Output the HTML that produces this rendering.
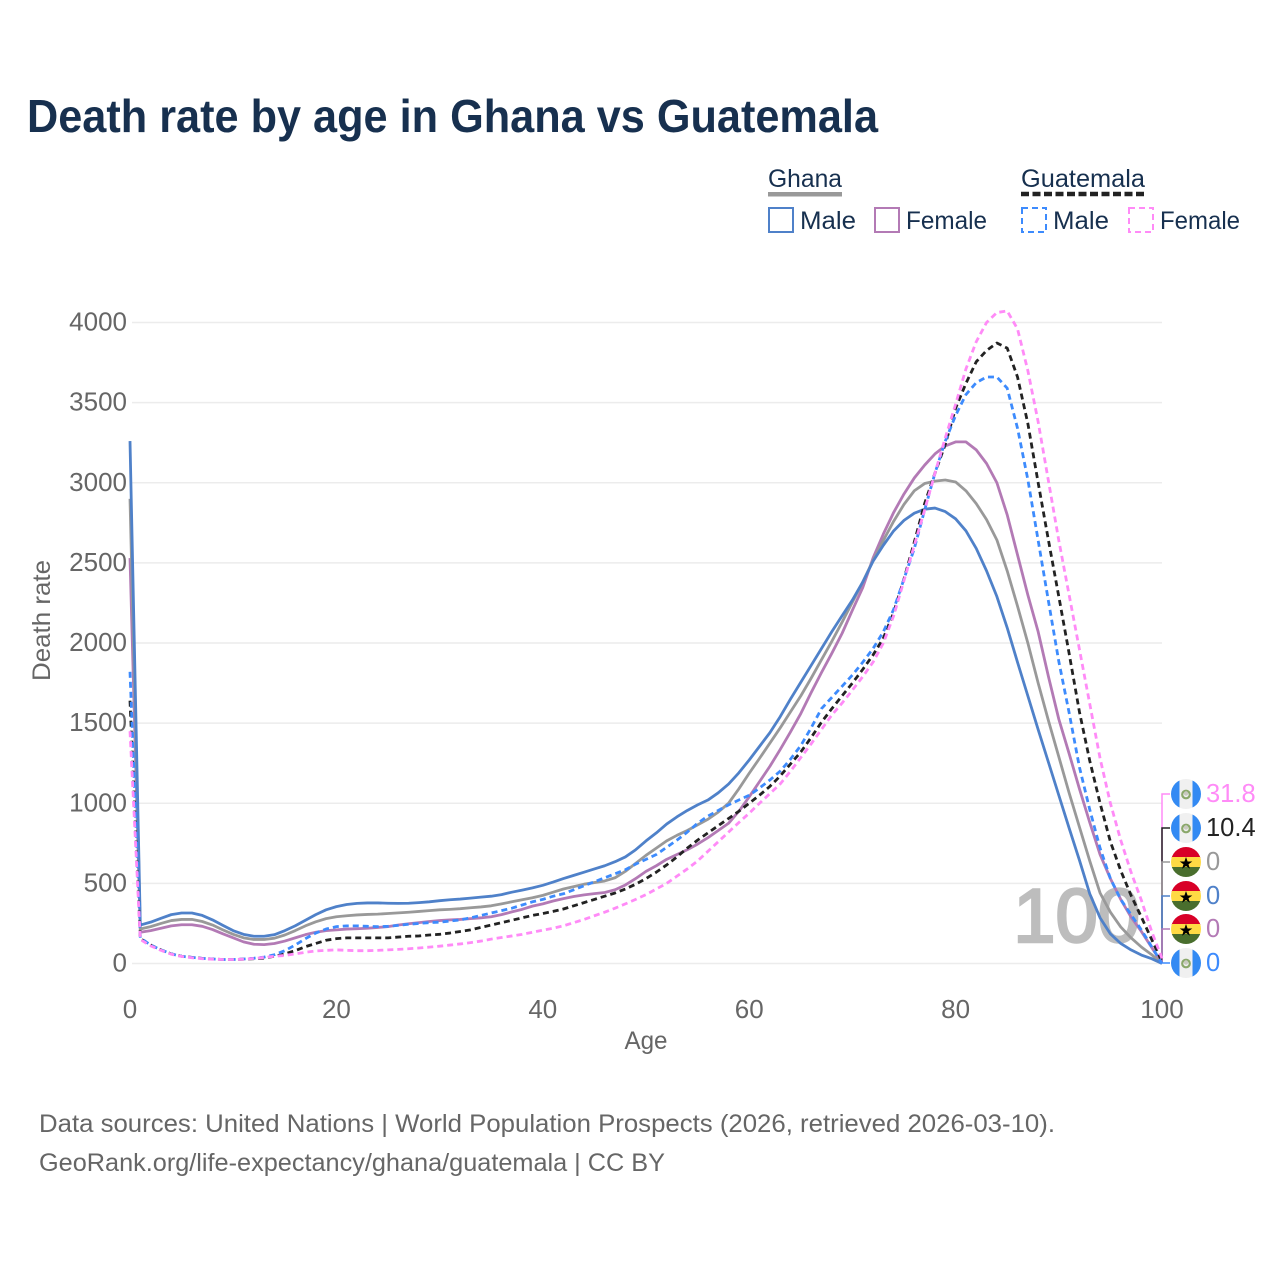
<!DOCTYPE html>
<html lang="en">
<head>
<meta charset="utf-8">
<title>Death rate by age in Ghana vs Guatemala</title>
<style>
html,body{margin:0;padding:0;background:#fff;}
svg{display:block;font-family:"Liberation Sans",sans-serif;}
</style>
</head>
<body>
<svg id="chart" width="1280" height="1280" viewBox="0 0 1280 1280" xmlns="http://www.w3.org/2000/svg">
<defs>
<clipPath id="flagClip"><circle cx="0" cy="0" r="15"/></clipPath>
<g id="flagGuatemala">
<g clip-path="url(#flagClip)">
<rect x="-15" y="-15" width="30" height="30" fill="#f0f0f0"/>
<rect x="-15" y="-15" width="8.5" height="30" fill="#338af3"/>
<rect x="6.5" y="-15" width="8.5" height="30" fill="#338af3"/>
<circle cx="0" cy="0.5" r="3.8" fill="none" stroke="#8ba86b" stroke-width="2.2"/>
<circle cx="0" cy="-0.5" r="2.2" fill="#c9c9c0"/>
</g>
</g>
<g id="flagGhana">
<g clip-path="url(#flagClip)">
<rect x="-15" y="-15" width="30" height="11" fill="#d80027"/>
<rect x="-15" y="-5" width="30" height="11" fill="#ffda44"/>
<rect x="-15" y="5" width="30" height="10" fill="#496e2d"/>
<polygon points="0,-5 1.6,-0.5 6.3,-0.5 2.5,2.3 3.9,6.8 0,4 -3.9,6.8 -2.5,2.3 -6.3,-0.5 -1.6,-0.5" fill="#000"/>
</g>
</g>
</defs>

<text x="27" y="132" font-size="46" font-weight="700" fill="#17304f" textLength="851" lengthAdjust="spacingAndGlyphs">Death rate by age in Ghana vs Guatemala</text>

<g>
  <g>
    <text x="768" y="187" font-size="25" fill="#17304f" textLength="74" lengthAdjust="spacingAndGlyphs">Ghana</text>
    <rect x="768" y="192" width="74" height="4.5" fill="#999999"/>
  </g>
  <g>
    <text x="1021" y="187" font-size="25" fill="#17304f" textLength="124" lengthAdjust="spacingAndGlyphs">Guatemala</text>
    <line x1="1021" y1="194" x2="1145" y2="194" stroke="#222222" stroke-width="4.5" stroke-dasharray="8 3.5"/>
  </g>
  <g>
    <rect x="769" y="208" width="24" height="24" fill="none" stroke="#4f81c9" stroke-width="2"/>
    <text x="800" y="229" font-size="25" fill="#17304f" textLength="56" lengthAdjust="spacingAndGlyphs">Male</text>
  </g>
  <g>
    <rect x="875" y="208" width="24" height="24" fill="none" stroke="#b37ab5" stroke-width="2"/>
    <text x="906" y="229" font-size="25" fill="#17304f" textLength="81" lengthAdjust="spacingAndGlyphs">Female</text>
  </g>
  <g>
    <rect x="1022" y="208" width="24" height="24" fill="none" stroke="#3d8bfd" stroke-width="2" stroke-dasharray="6 4"/>
    <text x="1053" y="229" font-size="25" fill="#17304f" textLength="56" lengthAdjust="spacingAndGlyphs">Male</text>
  </g>
  <g>
    <rect x="1129" y="208" width="24" height="24" fill="none" stroke="#ff8bf7" stroke-width="2" stroke-dasharray="6 4"/>
    <text x="1160" y="229" font-size="25" fill="#17304f" textLength="80" lengthAdjust="spacingAndGlyphs">Female</text>
  </g>
</g>

<g id="grid"></g>
<g id="yTicks"></g>
<g id="xTicks"></g>

<text transform="translate(50,620.5) rotate(-90)" text-anchor="middle" font-size="25" fill="#666666" textLength="121" lengthAdjust="spacingAndGlyphs">Death rate</text>
<text x="646" y="1049" text-anchor="middle" font-size="25" fill="#666666" textLength="43" lengthAdjust="spacingAndGlyphs">Age</text>

<text x="1140" y="942" text-anchor="end" font-size="76" font-weight="400" fill="#bdbdbd" stroke="#bdbdbd" stroke-width="2.5">100</text>

<g id="connectors"></g>
<g id="lines"></g>
<g id="endLabels"></g>

<text x="39" y="1132" font-size="25" fill="#666666" textLength="1016" lengthAdjust="spacingAndGlyphs">Data sources: United Nations | World Population Prospects (2026, retrieved 2026-03-10).</text>
<text x="39" y="1171" font-size="25" fill="#666666" textLength="626" lengthAdjust="spacingAndGlyphs">GeoRank.org/life-expectancy/ghana/guatemala | CC BY</text>
</svg>

<script>
var xTickLabels = [0, 20, 40, 60, 80, 100];
var yTickLabels = [0, 500, 1000, 1500, 2000, 2500, 3000, 3500, 4000];

var ghanaFemale = [2530,195,205,220,235,242,242,232,212,185,160,135,120,118,125,140,160,180,195,205,210,215,217,220,225,230,240,248,255,262,268,272,275,280,285,292,305,322,338,358,372,390,405,418,428,436,443,460,490,530,575,610,650,680,710,745,785,830,875,950,1040,1135,1230,1335,1445,1560,1690,1815,1935,2060,2205,2345,2530,2680,2815,2930,3030,3110,3180,3230,3255,3255,3205,3120,3000,2800,2550,2300,2070,1790,1525,1310,1090,880,680,530,400,290,200,100,0];
var ghanaAll = [2900,215,230,250,268,275,275,262,240,210,182,160,150,150,158,178,205,235,260,280,292,298,303,306,308,312,316,320,325,330,335,338,342,348,353,360,372,385,398,410,425,445,465,480,495,505,515,535,575,625,675,720,765,800,830,865,900,945,1000,1090,1187,1280,1375,1470,1570,1670,1780,1895,2010,2130,2255,2380,2515,2640,2760,2865,2950,2995,3010,3017,3005,2950,2870,2770,2643,2450,2230,2000,1750,1515,1290,1065,852,640,440,320,228,160,103,55,0];
var ghanaMale = [3260,240,258,282,305,315,315,300,272,238,205,182,170,170,180,205,235,270,305,335,355,368,375,378,378,376,375,376,380,385,392,398,402,408,414,420,430,445,458,472,488,508,530,550,570,590,610,635,665,710,765,815,870,915,955,990,1020,1065,1120,1190,1270,1355,1440,1540,1650,1755,1860,1965,2070,2170,2268,2380,2510,2610,2700,2765,2810,2835,2842,2820,2775,2700,2590,2450,2290,2095,1880,1670,1460,1255,1050,845,645,435,285,185,125,85,53,30,0];
var guatemalaAll = [1640,155,115,85,60,45,38,32,28,25,25,27,30,34,45,60,80,105,125,145,155,160,160,160,160,160,165,170,172,178,182,190,200,210,225,240,255,270,285,300,312,325,340,360,380,400,420,440,465,495,530,570,615,665,720,770,815,860,905,950,1000,1050,1105,1170,1245,1320,1410,1505,1590,1670,1750,1835,1925,2030,2190,2400,2630,2870,3060,3240,3465,3620,3755,3825,3872,3840,3660,3370,3000,2640,2290,1935,1570,1265,1000,760,580,425,290,150,10.4];
var guatemalaMale = [1820,160,115,85,60,45,38,32,28,25,25,28,33,40,55,80,115,155,190,215,230,235,235,232,230,232,238,245,250,255,258,265,272,285,300,315,330,345,365,385,400,420,435,460,485,510,535,560,585,620,650,680,725,770,820,875,920,955,990,1020,1050,1095,1145,1200,1275,1360,1470,1590,1660,1730,1800,1880,1965,2070,2210,2400,2590,2830,3060,3260,3420,3550,3625,3660,3660,3590,3340,3020,2640,2260,1885,1565,1225,960,720,530,400,305,210,105,0];
var guatemalaFemale = [1450,150,110,82,58,44,36,30,27,25,25,27,31,38,45,50,60,70,78,82,85,82,80,80,82,85,88,92,97,102,108,115,122,130,140,152,162,172,182,195,208,220,235,255,275,298,320,345,372,400,430,465,500,545,590,640,700,760,820,880,938,1000,1060,1120,1200,1285,1370,1460,1550,1625,1706,1790,1880,2000,2170,2390,2610,2830,3060,3280,3490,3710,3880,4000,4062,4072,3960,3700,3380,3010,2640,2300,1960,1620,1280,1000,770,570,395,200,31.8];

var NS = 'http://www.w3.org/2000/svg';
var PLOT_LEFT = 130, PLOT_RIGHT = 1162, PLOT_BOTTOM = 963.5, PLOT_TOP = 322.5;
function xScale(age) { return PLOT_LEFT + (age / 100) * (PLOT_RIGHT - PLOT_LEFT); }
function yScale(v) { return PLOT_BOTTOM - (v / 4000) * (PLOT_BOTTOM - PLOT_TOP); }
function make(tag, attrs, parent) {
  var el = document.createElementNS(NS, tag);
  for (var k in attrs) { el.setAttribute(k, attrs[k]); }
  parent.appendChild(el);
  return el;
}

var gridG = document.getElementById('grid');
var yG = document.getElementById('yTicks');
yTickLabels.forEach(function (t) {
  var ln = make('line', {x1: PLOT_LEFT + 2, x2: PLOT_RIGHT, y1: yScale(t), y2: yScale(t), stroke: '#ececec', 'stroke-width': 1.6}, gridG);
  
  
  var tx = make('text', {x: 127, y: yScale(t) + 8, 'text-anchor': 'end', 'font-size': 26, fill: '#666666'}, yG);
  tx.textContent = String(t);
  
  
});

var xG = document.getElementById('xTicks');
xTickLabels.forEach(function (t) {
  var tx = make('text', {x: xScale(t), y: 1018, 'text-anchor': 'middle', 'font-size': 26, fill: '#666666'}, xG);
  tx.textContent = String(t);
  
  
});

function linePath(values) {
  var d = '';
  for (var i = 0; i < values.length; i++) {
    d += (i ? 'L' : 'M') + xScale(i).toFixed(2) + ' ' + yScale(values[i]).toFixed(2);
  }
  return d;
}

var linesG = document.getElementById('lines');
function drawLine(name, values, color, dash) {
  var p = make('path', {d: linePath(values), fill: 'none', stroke: color, 'stroke-width': 2.8, 'stroke-linejoin': 'round'}, linesG);
  if (dash) { p.setAttribute('stroke-dasharray', '6 4'); }
  
  
}
drawLine('line-ghana-female', ghanaFemale, '#b37ab5', false);
drawLine('line-ghana-overall', ghanaAll, '#999999', false);
drawLine('line-ghana-male', ghanaMale, '#4f81c9', false);
drawLine('line-guatemala-overall', guatemalaAll, '#222222', true);
drawLine('line-guatemala-male', guatemalaMale, '#3d8bfd', true);
drawLine('line-guatemala-female', guatemalaFemale, '#ff8bf7', true);

var connG = document.getElementById('connectors');
var labelG = document.getElementById('endLabels');
function drawEnd(name, values, color, flagId, slotY) {
  var last = values[values.length - 1];
  var c = make('path', {d: 'M' + PLOT_RIGHT + ' ' + yScale(last) + 'V' + slotY + 'H1170', fill: 'none', stroke: color, 'stroke-width': 1.5}, connG);
  
  
  var f = make('use', {href: '#' + flagId, transform: 'translate(1186,' + slotY + ')'}, labelG);
  
  
  var t = make('text', {x: 1206, y: slotY + 8, 'font-size': 25.5, fill: color}, labelG);
  t.textContent = String(last);
  
  
}
drawEnd('guatemala-female', guatemalaFemale, '#ff8bf7', 'flagGuatemala', 794);
drawEnd('guatemala-overall', guatemalaAll, '#222222', 'flagGuatemala', 828);
drawEnd('ghana-overall', ghanaAll, '#999999', 'flagGhana', 862);
drawEnd('ghana-male', ghanaMale, '#4f81c9', 'flagGhana', 896);
drawEnd('ghana-female', ghanaFemale, '#b37ab5', 'flagGhana', 929);
drawEnd('guatemala-male', guatemalaMale, '#3d8bfd', 'flagGuatemala', 963);
</script>
</body>
</html>
